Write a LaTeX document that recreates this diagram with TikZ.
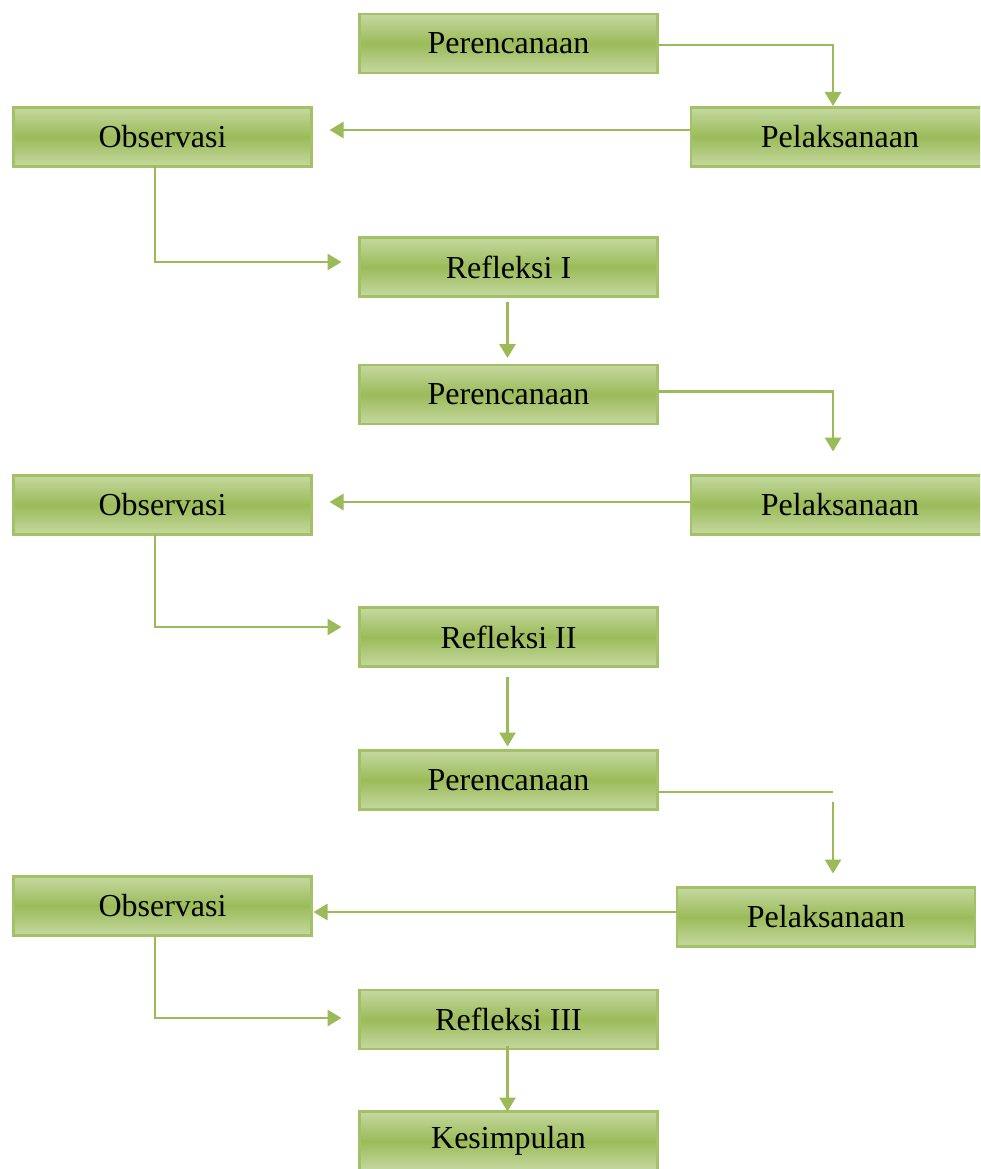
\documentclass[tikz,border=0pt]{standalone}
\usepackage{fontspec}
\setmainfont{Liberation Serif}
\usetikzlibrary{calc,arrows.meta}
\definecolor{gline}{HTML}{9BBB59}
\definecolor{glight}{HTML}{C5D8A0}
\definecolor{gdark}{HTML}{9BBB59}
\definecolor{gborder}{HTML}{A3C166}
\tikzset{
  box/.style={draw=gborder, line width=2.5pt, top color=glight, bottom color=glight, middle color=gdark,
    minimum width=298pt, minimum height=59pt, inner sep=0pt, outer sep=0pt,
    font=\fontsize{32}{36}\selectfont},
  conn/.style={draw=gline, line width=2.8pt},
  arr/.style={conn, -{Triangle[width=16pt,length=14pt]}},
}
\begin{document}
\begin{tikzpicture}[x=1pt,y=-1pt]
\clip (0,0) rectangle (980,1169);
\fill[white] (0,0) rectangle (980,1169);
\node[box] (per1) at (508.5,43.5) {Perencanaan};
\node[box] (pel1) at (840,137) {Pelaksanaan};
\node[box] (obs1) at (162.5,137) {Observasi};
\node[box] (ref1) at (508.5,267) {Refleksi I};
\node[box] (per2) at (508.5,394.5) {Perencanaan};
\node[box] (pel2) at (840,505) {Pelaksanaan};
\node[box] (obs2) at (162.5,505) {Observasi};
\node[box] (ref2) at (508.5,637) {Refleksi II};
\node[box] (per3) at (508.5,780) {Perencanaan};
\node[box] (pel3) at (826,917) {Pelaksanaan};
\node[box] (obs3) at (162.5,906) {Observasi};
\node[box] (ref3) at (508.5,1019.5) {Refleksi III};
\node[box] (kes) at (508.5,1141) {Kesimpulan};

% cycle 1
\draw[arr] ($(per1.east)+(0,1.5)$) -| ($(pel1.north)+(-7,-1.5)$);
\draw[arr] ($(pel1.west)+(0,-7)$) -- ($(obs1.east)+(18,-7)$);
\draw[arr] ($(obs1.south)+(-7.5,0)$) |- ($(ref1.west)+(-18,-5)$);
\draw[arr] ($(ref1.south)+(-1,5)$) -- ($(per2.north)+(-1,-7)$);
% cycle 2
\draw[arr] ($(per2.east)+(0,-3)$) -| ($(pel2.north)+(-7,-24)$);
\draw[arr] ($(pel2.west)+(0,-3)$) -- ($(obs2.east)+(18,-3)$);
\draw[arr] ($(obs2.south)+(-7.5,0)$) |- ($(ref2.west)+(-18,-10)$);
\draw[arr] ($(ref2.south)+(-1,10)$) -- ($(per3.north)+(-1,-4)$);
% cycle 3
\coordinate (s3) at ($(per3.east)+(0,12)$);
\coordinate (c3a) at ($(s3 -| pel3.north)+(7,0)$);
\coordinate (c3b) at ($(c3a)+(0,10)$);
\draw[conn] (s3) -- (c3a);
\draw[arr] (c3b) -- ($(pel3.north)+(7,-14)$);
\draw[arr] ($(pel3.west)+(0,-5)$) -- ($(obs3.east)+(2,6)$);
\draw[arr] ($(obs3.south)+(-7.5,0)$) |- ($(ref3.west)+(-18,-1.5)$);
\draw[arr] ($(ref3.south)+(-1,-3)$) -- ($(kes.north)+(-1,0)$);
\end{tikzpicture}
\end{document}
